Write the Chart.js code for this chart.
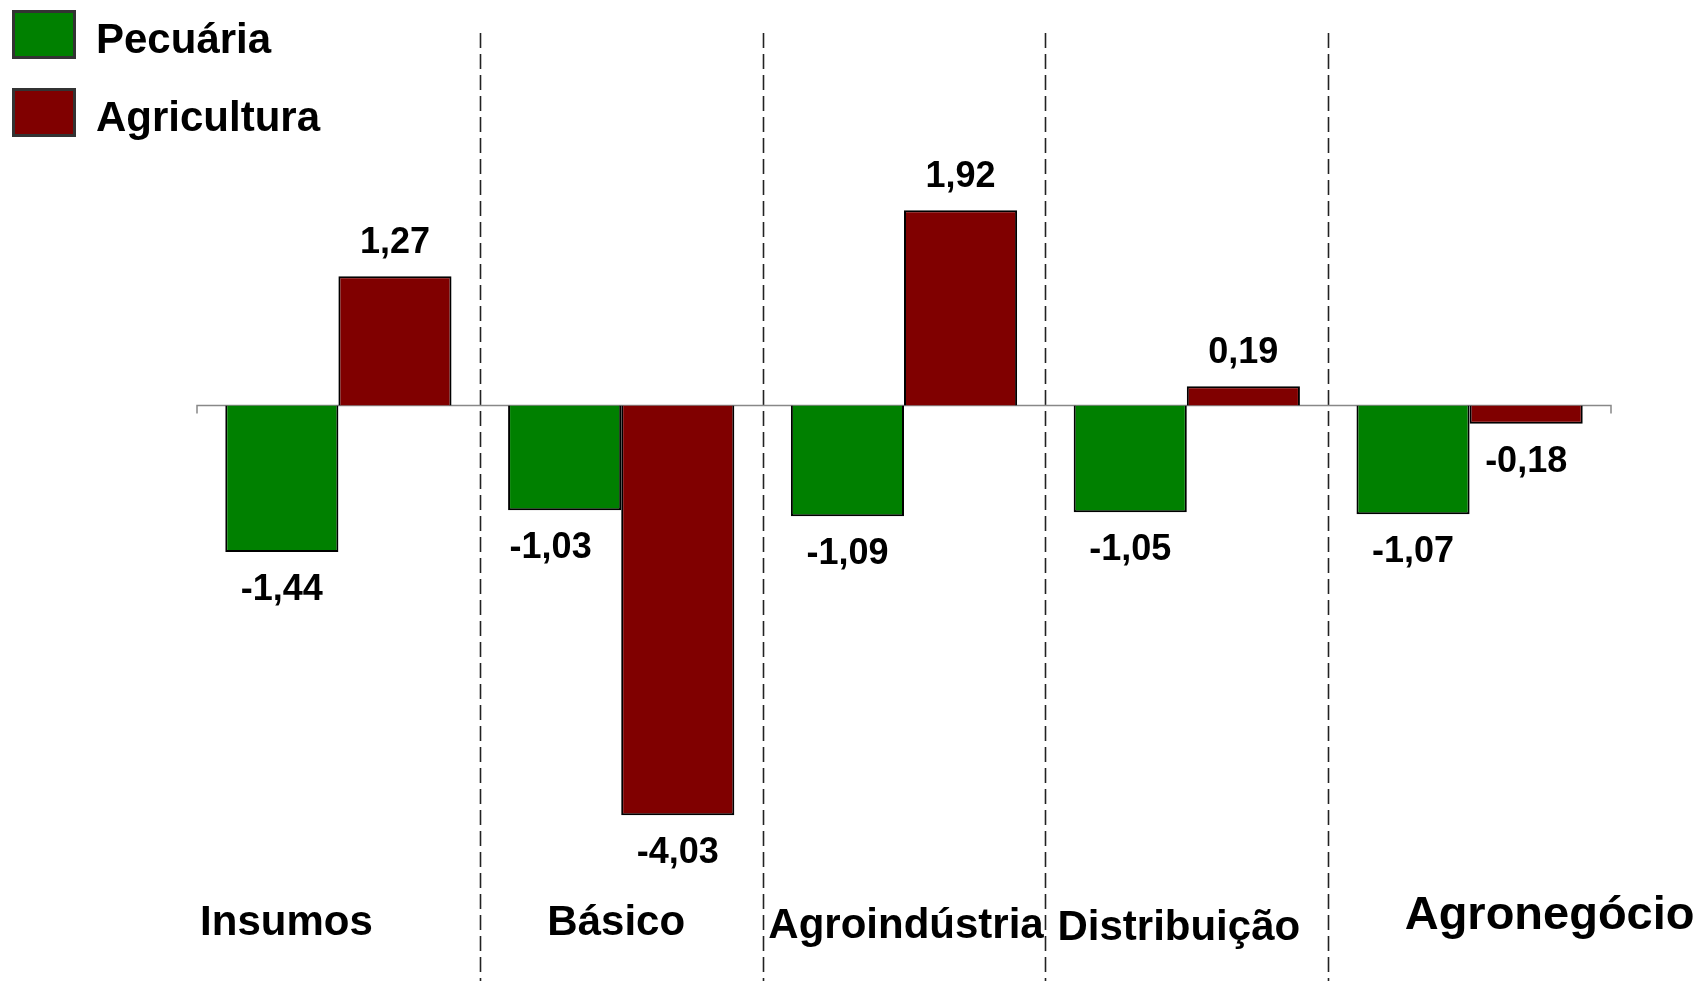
<!DOCTYPE html>
<html>
<head>
<meta charset="utf-8">
<script src="https://cdn.jsdelivr.net/npm/chart.js@4.4.0/dist/chart.umd.min.js"></script>
<style>
  html, body { margin: 0; padding: 0; background: #fff; }
  #wrap { width: 1700px; height: 985px; }
</style>
</head>
<body>
<div id="wrap"><canvas id="grafico" width="1700" height="985"></canvas></div>
<script>
const categorias = ['Insumos', 'Básico', 'Agroindústria', 'Distribuição', 'Agronegócio'];
const pecuaria = [-1.44, -1.03, -1.09, -1.05, -1.07];
const agricultura = [1.27, -4.03, 1.92, 0.19, -0.18];

const fonte = '"Liberation Sans", Arial, sans-serif';

// deslocamento dos nomes das categorias em relacao ao centro (px) e tamanho
const ajusteRotulos = [
  { dx: -52, y: 935, size: 42 },
  { dx: -5, y: 935, size: 42 },
  { dx: 2, y: 938, size: 42 },
  { dx: -8, y: 940, size: 42 },
  { dx: 80, y: 929, size: 47 }
];

const formatar = v => v.toFixed(2).replace('.', ',');

const pluginDesenho = {
  id: 'desenho',
  beforeDatasetsDraw(chart) {
    const ctx = chart.ctx;
    const area = chart.chartArea;
    const x = chart.scales.x;
    const y = chart.scales.y;
    const y0 = y.getPixelForValue(0);

    // linhas tracejadas entre as categorias
    ctx.save();
    ctx.strokeStyle = '#222';
    ctx.lineWidth = 1.6;
    ctx.setLineDash([15, 6]);
    for (let i = 0; i < categorias.length - 1; i++) {
      const px = Math.round((x.getPixelForValue(i) + x.getPixelForValue(i + 1)) / 2) + 0.5;
      ctx.beginPath();
      ctx.moveTo(px, area.top);
      ctx.lineTo(px, area.bottom);
      ctx.stroke();
    }
    ctx.restore();

    // eixo do zero
    ctx.save();
    ctx.strokeStyle = '#888';
    ctx.lineWidth = 1.5;
    ctx.beginPath();
    ctx.moveTo(area.left, y0 + 8);
    ctx.lineTo(area.left, y0);
    ctx.lineTo(area.right, y0);
    ctx.lineTo(area.right, y0 + 8);
    ctx.stroke();
    ctx.restore();
  },
  afterDraw(chart) {
    const ctx = chart.ctx;
    const x = chart.scales.x;

    // valores
    ctx.save();
    ctx.fillStyle = '#000';
    ctx.font = 'bold 36px ' + fonte;
    ctx.textAlign = 'center';
    ctx.textBaseline = 'middle';
    chart.data.datasets.forEach((ds, di) => {
      chart.getDatasetMeta(di).data.forEach((bar, i) => {
        const v = ds.data[i];
        const py = v >= 0 ? bar.y - 33 : bar.y + 38;
        const dx = (di === 0 && i === 1) ? -14 : 0;
        ctx.fillText(formatar(v), bar.x + dx, py);
      });
    });

    // nomes das categorias
    ctx.textBaseline = 'alphabetic';
    categorias.forEach((nome, i) => {
      const aj = ajusteRotulos[i];
      ctx.font = 'bold ' + aj.size + 'px ' + fonte;
      ctx.fillText(nome, x.getPixelForValue(i) + aj.dx, aj.y);
    });

    // legenda
    ctx.textAlign = 'left';
    ctx.textBaseline = 'alphabetic';
    ctx.font = 'bold 42px ' + fonte;
    chart.data.datasets.forEach((ds, di) => {
      const top = 10 + di * 78;
      ctx.fillStyle = '#333';
      ctx.fillRect(12, top, 64, 49);
      ctx.fillStyle = ds.backgroundColor;
      ctx.fillRect(15, top + 3, 58, 43);
      ctx.fillStyle = '#000';
      ctx.fillText(ds.label, 96, top + 43);
    });
    ctx.restore();
  }
};

new Chart(document.getElementById('grafico').getContext('2d'), {
  type: 'bar',
  data: {
    labels: categorias,
    datasets: [
      {
        label: 'Pecuária',
        data: pecuaria,
        backgroundColor: '#008000',
        borderColor: '#000',
        borderWidth: 2
      },
      {
        label: 'Agricultura',
        data: agricultura,
        backgroundColor: '#800000',
        borderColor: '#000',
        borderWidth: 2
      }
    ]
  },
  options: {
    responsive: false,
    animation: false,
    devicePixelRatio: 1,
    layout: { padding: { left: 197, right: 89, top: 33, bottom: 4 } },
    datasets: { bar: { categoryPercentage: 0.8, barPercentage: 1 } },
    scales: {
      x: { display: false, offset: true },
      y: { display: false, min: -5.66, max: 3.663 }
    },
    plugins: {
      legend: { display: false },
      tooltip: { enabled: false }
    }
  },
  plugins: [pluginDesenho]
});
</script>
</body>
</html>
